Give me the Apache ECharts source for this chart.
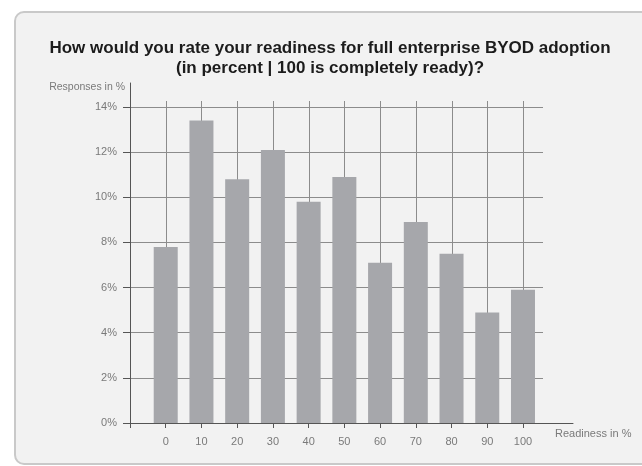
<!DOCTYPE html>
<html>
<head>
<meta charset="utf-8">
<script src="https://cdn.jsdelivr.net/npm/echarts@6.0.0/dist/echarts.min.js"></script>
<style>
  html, body { margin: 0; padding: 0; background: #ffffff; }
  #wrap { position: relative; width: 642px; height: 466px; overflow: hidden; }
  #panel {
    position: absolute; left: 14px; top: 11px; width: 660px; height: 450px;
    background: #f2f2f2; border: 2px solid #c9c9c9; border-radius: 10px;
  }
  #chart { position: absolute; left: 0; top: 0; width: 642px; height: 466px; }
</style>
</head>
<body>
<div id="wrap">
  <div id="panel"></div>
  <div id="chart"></div>
</div>
<script>
// Readiness levels (x) and share of responses (y, percent)
const readiness = [0, 10, 20, 30, 40, 50, 60, 70, 80, 90, 100];
const responses = [7.8, 13.4, 10.8, 12.1, 9.8, 10.9, 7.1, 8.9, 7.5, 4.9, 5.9];
const yTickValues = [0, 2, 4, 6, 8, 10, 12, 14];

const titleText = 'How would you rate your readiness for full enterprise BYOD adoption\n(in percent | 100 is completely ready)?';
const xName = 'Readiness in %';
const yName = 'Responses in %';

const FONT = '"Liberation Sans", Arial, Helvetica, sans-serif';
const AXIS = '#555555';
const GRIDLINE = '#8c8c8c';
const LABEL = '#7a7a7a';
const BAR = '#a6a7ab';

const yMin = yTickValues[0];
const yMax = yTickValues[yTickValues.length - 1];
const yStep = yTickValues[1] - yTickValues[0];
const xStep = readiness[1] - readiness[0];
const xMin = readiness[0] - xStep;
const xMaxData = readiness[readiness.length - 1];

const chart = echarts.init(document.getElementById('chart'), null, { renderer: 'canvas' });

chart.setOption({
  backgroundColor: 'transparent',
  animation: false,
  title: {
    text: titleText,
    left: 325,
    textAlign: 'center',
    top: 33,
    textStyle: {
      fontFamily: FONT, fontSize: 17, fontWeight: 'bold', color: '#1c1c1c', lineHeight: 20
    }
  },
  grid: [
    // bars and the x axis
    { left: 130, right: 69, top: 107, bottom: 43 },
    // y labels and horizontal grid lines
    { left: 130, right: 99, top: 107, bottom: 43 },
    // vertical grid lines
    { left: 130, right: 118.7, top: 101, bottom: 43 },
    // y axis line and its name
    { left: 130, right: 99, top: 83, bottom: 43 }
  ],
  xAxis: [
    {
      gridIndex: 0, type: 'value', min: xMin, max: 114, interval: xStep,
      axisLine: { show: true, lineStyle: { color: AXIS, width: 1 } },
      axisTick: {
        show: true, length: 5, customValues: [xMin].concat(readiness),
        lineStyle: { color: AXIS, width: 1 }
      },
      axisLabel: {
        customValues: readiness, margin: 13,
        fontFamily: FONT, fontSize: 11, color: LABEL
      },
      splitLine: { show: false },
      name: xName, nameLocation: 'end', nameGap: -18,
      nameTextStyle: {
        fontFamily: FONT, fontSize: 11, color: LABEL,
        align: 'left', verticalAlign: 'top', padding: [5, 0, 0, 0]
      }
    },
    { gridIndex: 1, type: 'value', min: 0, max: 1, show: false },
    {
      gridIndex: 2, type: 'value', min: xMin, max: xMaxData, interval: xStep,
      axisLine: { show: false }, axisTick: { show: false }, axisLabel: { show: false },
      splitLine: { show: true, lineStyle: { color: GRIDLINE, width: 1 } }
    },
    { gridIndex: 3, type: 'value', min: 0, max: 1, show: false }
  ],
  yAxis: [
    { gridIndex: 0, type: 'value', min: yMin, max: yMax, show: false },
    {
      gridIndex: 1, type: 'value', min: yMin, max: yMax, interval: yStep,
      axisLine: { show: false },
      axisTick: { show: true, length: 7, lineStyle: { color: AXIS, width: 1 } },
      axisLabel: {
        formatter: '{value}%', margin: 13,
        fontFamily: FONT, fontSize: 11, color: LABEL
      },
      splitLine: { show: true, lineStyle: { color: GRIDLINE, width: 1 } }
    },
    { gridIndex: 2, type: 'value', min: 0, max: 1, show: false },
    {
      gridIndex: 3, type: 'value', min: 0, max: 1,
      axisLine: { show: true, lineStyle: { color: AXIS, width: 1 } },
      axisTick: { show: false }, axisLabel: { show: false }, splitLine: { show: false },
      name: yName, nameLocation: 'end', nameGap: -4,
      nameTextStyle: {
        fontFamily: FONT, fontSize: 10.5, color: LABEL,
        align: 'right', verticalAlign: 'middle', padding: [0, 5, 0, 0]
      }
    }
  ],
  series: [
    {
      type: 'bar',
      xAxisIndex: 0, yAxisIndex: 0,
      barWidth: 24,
      itemStyle: { color: BAR },
      data: readiness.map((r, i) => [r, responses[i]]),
      z: 5
    }
  ]
});
</script>
</body>
</html>
